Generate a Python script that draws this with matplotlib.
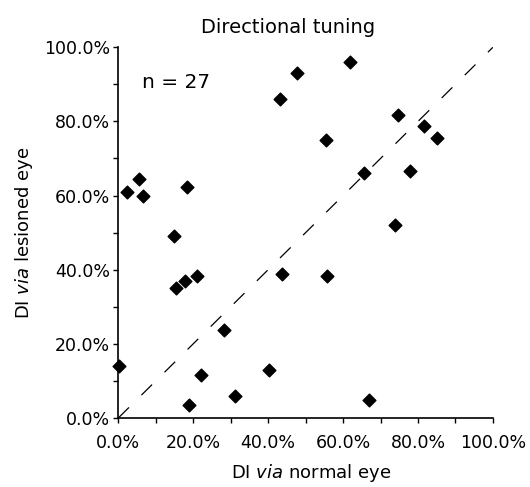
import matplotlib
matplotlib.use("Agg")
from matplotlib import pyplot as plt
from matplotlib.ticker import MultipleLocator, FuncFormatter

# DI values (%)
normal_eye = [2.2, 5.6, 6.5, 18.3, 14.9, 43.2, 47.6, 61.8, 74.8, 81.6, 85.0,
              55.4, 65.6, 77.8, 73.8, 0.2, 15.4, 17.8, 21.1, 43.6, 28.2,
              22.0, 40.3, 31.1, 18.9, 55.8, 66.8]
lesioned_eye = [60.9, 64.5, 60.0, 62.4, 49.2, 86.0, 93.1, 96.0, 81.7, 78.8, 75.5,
                75.1, 66.2, 66.6, 52.0, 14.0, 35.1, 37.0, 38.2, 38.9, 23.7,
                11.5, 12.9, 5.9, 3.6, 38.4, 4.9]
title = "Directional tuning"
n_label = "n = 27"

plt.rcParams['font.family'] = ['DejaVu Sans']
plt.rcParams['mathtext.fontset'] = 'dejavusans'

fig = plt.figure(figsize=(5.30, 4.87), dpi=100)
ax = fig.add_axes([0.2232, 0.1417, 0.7068, 0.7612])

ax.plot([0, 100], [0, 100], color='black', linestyle=(0, (12, 14)), linewidth=0.9)
ax.scatter(normal_eye, lesioned_eye, marker='D', s=42, color='black', zorder=3,
           clip_on=False)

ax.set_xlim(0, 100)
ax.set_ylim(0, 100)
pct = FuncFormatter(lambda v, p: f"{v:.1f}%")
for axis in (ax.xaxis, ax.yaxis):
    axis.set_major_locator(MultipleLocator(20))
    axis.set_minor_locator(MultipleLocator(10))
    axis.set_major_formatter(pct)
ax.tick_params(which='both', direction='out', length=3.6, width=1, labelsize=12.5,
               color='black')
ax.tick_params(axis='x', which='both', pad=8)
ax.tick_params(axis='y', which='both', pad=2.5)

for side in ('top', 'right'):
    ax.spines[side].set_visible(False)
for side in ('left', 'bottom'):
    ax.spines[side].set_linewidth(1.2)

ax.set_title(title, fontsize=14, pad=10, x=0.454)
ax.set_xlabel(r"DI $\it{via}$ normal eye", fontsize=13, labelpad=7, x=0.515)
ax.set_ylabel(r"DI $\it{via}$ lesioned eye", fontsize=13, labelpad=6)
ax.text(6.2, 90.5, n_label, fontsize=14.5, va='center', ha='left')

fig.savefig("out.png", dpi=100)
